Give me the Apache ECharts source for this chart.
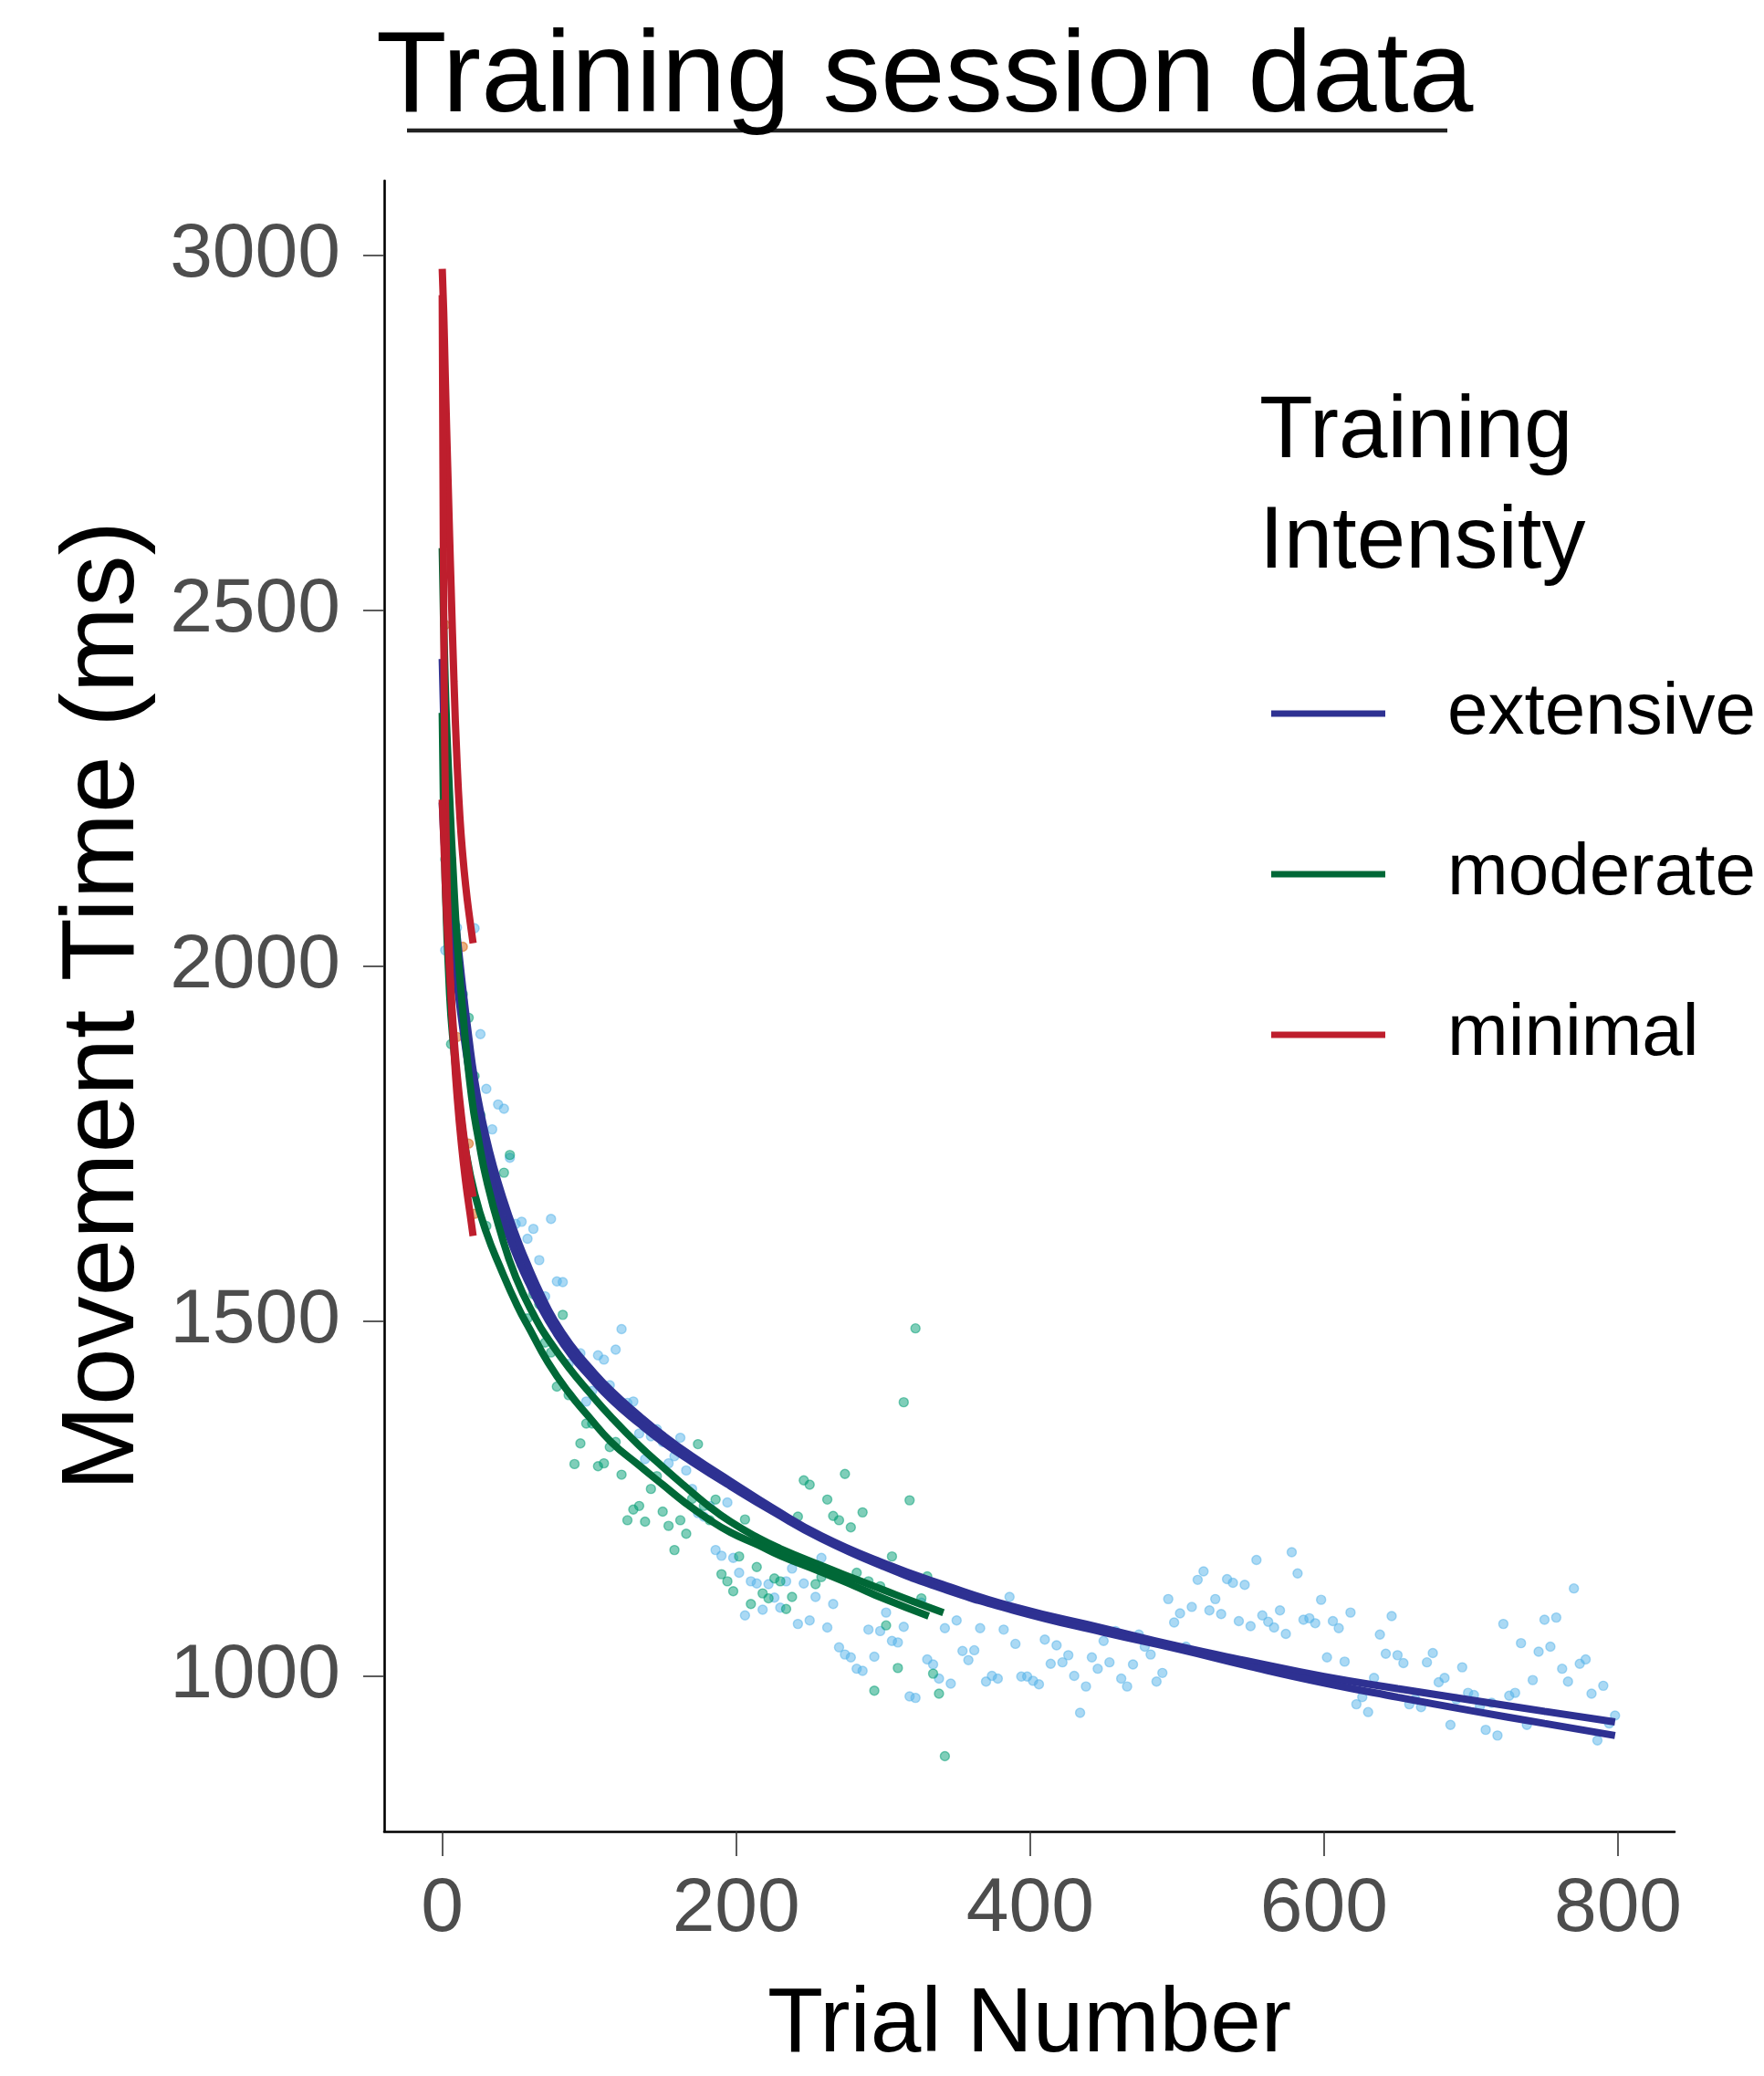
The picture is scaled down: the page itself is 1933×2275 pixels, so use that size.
<!DOCTYPE html>
<html><head><meta charset="utf-8">
<script src="https://cdn.jsdelivr.net/npm/echarts@6/dist/echarts.min.js"></script>
<style>html,body{margin:0;padding:0;background:#fff}#c{width:1933px;height:2275px}</style>
</head><body><div id="c"></div>
<script>
// ---------- DATA ----------
const xTicks = [0, 200, 400, 600, 800];
const yTicks = [1000, 1500, 2000, 2500, 3000];
const groups = ['extensive', 'moderate', 'minimal'];

const extensiveTrial = [2,6,10,14,18,22,26,30,34,38,42,46,50,54,58,62,66,70,74,78,
82,86,90,94,98,102,106,110,114,118,122,126,130,134,138,142,146,150,154,158,
162,166,170,174,178,182,186,190,194,198,202,206,210,214,218,222,226,230,234,238,
242,246,250,254,258,262,266,270,274,278,282,286,290,294,298,302,306,310,314,318,
322,326,330,334,338,342,346,350,354,358,362,366,370,374,378,382,386,390,394,398,
402,406,410,414,418,422,426,430,434,438,442,446,450,454,458,462,466,470,474,478,
482,486,490,494,498,502,506,510,514,518,522,526,530,534,538,542,546,550,554,558,
562,566,570,574,578,582,586,590,594,598,602,606,610,614,618,622,626,630,634,638,
642,646,650,654,658,662,666,670,674,678,682,686,690,694,698,702,706,710,714,718,
722,726,730,734,738,742,746,750,754,758,762,766,770,774,778,782,786,790,794,798];
const extensiveMT = [2022,1990,2054,1950,1867,2053,1904,1827,1770,1805,
1799,1730,1637,1640,1616,1630,1586,1535,1644,1556,
1555,1440,1453,1455,1387,1402,1452,1446,1410,1460,
1489,1385,1387,1342,1306,1338,1348,1330,1300,1310,
1336,1290,1264,1230,1225,1240,1178,1170,1245,1167,
1146,1086,1134,1131,1094,1130,1111,1097,1134,1152,
1074,1131,1079,1112,1167,1069,1102,1041,1031,1027,
1011,1008,1066,1028,1064,1090,1050,1048,1070,972,
970,1104,1024,1017,997,1068,990,1079,1036,1023,
1037,1068,993,1001,997,1066,1112,1046,1000,1000,
994,989,1052,1018,1044,1020,1030,1001,949,986,
1027,1011,1050,1020,1064,997,986,1017,1059,1042,
1031,993,1005,1109,1076,1089,1042,1098,1136,1148,
1093,1109,1088,1137,1132,1078,1129,1071,1164,1086,
1077,1069,1093,1060,1175,1145,1080,1082,1075,1108,
1027,1078,1068,1021,1090,961,971,950,998,1059,
1032,1085,1030,1019,961,968,957,1020,1033,992,
998,932,968,1013,977,974,958,925,963,917,
1074,973,977,1047,932,995,1035,1080,1042,1083,
1011,993,1124,1018,1024,976,910,987,934,945];

const moderateTrial = [2,6,10,14,18,22,26,30,34,38,42,46,50,54,58,62,66,70,74,78,
82,86,90,94,98,102,106,110,114,118,122,126,130,134,138,142,146,150,154,158,
162,166,170,174,178,182,186,190,194,198,202,206,210,214,218,222,226,230,234,238,
242,246,250,254,258,262,266,270,274,278,282,286,290,294,298,302,306,310,314,318,
322,326,330,334,338,342];
const moderateMT = [2150,1890,1990,1960,1927,1845,1790,1634,1708,1673,
1709,1734,1610,1580,1504,1538,1524,1470,1456,1408,
1509,1396,1299,1328,1356,1356,1296,1300,1323,1330,
1284,1220,1235,1240,1218,1264,1282,1232,1212,1178,
1220,1201,1250,1327,1240,1220,1249,1144,1134,1120,
1169,1221,1102,1154,1117,1110,1138,1134,1095,1112,
1225,1276,1270,1130,1140,1249,1226,1220,1285,1210,
1146,1231,1134,980,1127,1072,1169,1012,1386,1248,
1490,1110,1141,1004,976,888];

const minimalTrial = [2,6,10,14,18,22];
const minimalMT = [2480,2150,1900,2027,1750,1651];

// fitted curves (trial, movement time)
const extFitA = [[0,2432],[2,2290],[5,2165],[8,2085],[11,2025],[14,1968],[18,1900],[22,1840],[27,1785],[32,1740],[38,1695],[45,1650],[52,1610],[59,1575],[67,1538],[76,1502],[88,1465],[100,1435],[115,1402],[134,1367],[150,1340],[170,1310],[196,1275],[225,1237],[258,1198],[300,1160],[340,1130],[389,1098],[450,1068],[500,1043],[550,1021],[600,1000],[650,983],[700,967],[750,951],[798,936]];
const extFitB = [[0,2230],[2,2150],[5,2070],[8,2010],[11,1960],[14,1912],[18,1855],[22,1805],[27,1752],[32,1708],[38,1664],[45,1622],[52,1585],[59,1553],[67,1520],[76,1488],[88,1452],[100,1423],[115,1390],[134,1356],[150,1330],[170,1302],[196,1268],[225,1232],[258,1194],[300,1155],[340,1124],[389,1093],[450,1062],[500,1039],[550,1014],[600,991],[650,971],[700,952],[750,934],[798,917]];
const modFitA = [[0,2588],[2,2400],[5,2240],[8,2110],[10,2040],[14,1935],[20,1815],[25,1752],[30,1700],[39,1630],[50,1562],[64,1502],[72,1475],[86,1435],[100,1400],[115,1365],[134,1325],[150,1295],[165,1268],[180,1242],[196,1218],[215,1195],[230,1180],[258,1156],[280,1138],[300,1122],[320,1106],[341,1090]];
const modFitB = [[0,2356],[2,2120],[5,1960],[8,1880],[12,1800],[16,1740],[22,1680],[30,1625],[39,1578],[51,1522],[60,1487],[72,1442],[86,1400],[100,1365],[115,1330],[134,1297],[150,1270],[165,1245],[180,1223],[196,1203],[215,1185],[230,1170],[258,1147],[280,1128],[300,1110],[331,1085]];
const minFitA = [[0,2981],[1,2920],[2,2835],[3,2755],[4,2680],[5,2605],[6,2535],[8,2400],[10,2290],[12,2210],[14,2155],[16,2112],[18,2077],[21,2032]];
const minFitB = [[0,2944],[0.5,2700],[1,2500],[1.5,2350],[2,2260],[3,2140],[4,2060],[6,1960],[8,1880],[10,1820],[13,1750],[16,1695],[19,1650],[21,1620]];
const minFitC = [[0,2234],[1,2180],[2,2120],[3,2070],[4,2030],[6,1960],[8,1900],[10,1850],[13,1790],[16,1740],[19,1700],[21,1675]];

// ---------- FONTS ----------
function hasFont(name){
  const ctx = document.createElement('canvas').getContext('2d');
  ctx.font = '72px monospace'; const a = ctx.measureText('abcdefghijklm0123456789').width;
  ctx.font = '72px "' + name + '", monospace'; const b = ctx.measureText('abcdefghijklm0123456789').width;
  return a !== b;
}
const narrowOK = hasFont('Liberation Sans Narrow');
const NARROW = narrowOK ? '"Liberation Sans Narrow", "Liberation Sans", Arial, sans-serif' : '"Liberation Sans", Arial, sans-serif';
const SANS = '"Liberation Sans", Arial, sans-serif';
const fs = narrowOK ? {tick: 94, legTitle: 113, legLabel: 96, xName: 115} : {tick: 84, legTitle: 96, legLabel: 80, xName: 100};

// ---------- CHART ----------
const colors = {extensive: '#2E3192', moderate: '#006837', minimal: '#BE1E2D'};
const pts = {extensive: 'rgba(86,180,233,0.5)', moderate: 'rgba(0,158,115,0.5)', minimal: 'rgba(213,94,0,0.5)'};
const zip = (xs, ys) => xs.map((x, i) => [x, ys[i]]);

function scatter(name, data, col){
  return {type: 'scatter', name: name + ' pts', data: data, symbol: 'circle', symbolSize: 10,
    itemStyle: {color: col, borderColor: col, borderWidth: 1.4, opacity: 1}, silent: true, z: 2};
}
function curve(name, data){
  return {type: 'line', name: name, data: data, smooth: 0.5, showSymbol: false,
    symbol: 'none', color: colors[name], lineStyle: {color: colors[name], width: 8, cap: 'butt'}, silent: true, z: 3};
}

const chart = echarts.init(document.getElementById('c'), null, {renderer: 'canvas'});
chart.setOption({
  animation: false,
  backgroundColor: '#ffffff',
  title: [
    {text: 'Training session data', left: 412, top: 23, padding: 0,
     textStyle: {fontFamily: SANS, fontSize: 127, fontWeight: 'normal', color: '#000'}},
    {text: 'Training\nIntensity', left: 1380, top: 414, padding: 0,
     textStyle: {fontFamily: NARROW, fontSize: fs.legTitle, lineHeight: 121, fontWeight: 'normal', color: '#000'}}
  ],
  graphic: [{type: 'line', shape: {x1: 446, y1: 143, x2: 1586, y2: 143}, style: {stroke: '#222', lineWidth: 4.5}, silent: true}],
  legend: {orient: 'vertical', left: 1393, top: 732, itemWidth: 125, itemHeight: 7, itemGap: 76,
    icon: 'rect', selectedMode: false, data: groups, padding: 0,
    textStyle: {fontFamily: NARROW, fontSize: fs.legLabel, color: '#000', lineHeight: 100, padding: [0, 0, 0, 63]}},
  grid: {left: 421, right: 98, top: 198, bottom: 267},
  xAxis: {type: 'value', min: -39.5, max: 838.5,
    axisLine: {show: true, onZero: false, lineStyle: {color: '#000', width: 2.6}},
    axisTick: {show: true, length: 27, customValues: xTicks, lineStyle: {color: '#333', width: 1.6}},
    axisLabel: {customValues: xTicks, margin: 44, formatter: v => String(v), fontFamily: NARROW, fontSize: fs.tick, color: '#4d4d4d'},
    splitLine: {show: false},
    name: 'Trial Number', nameLocation: 'middle', nameGap: 163,
    nameTextStyle: {fontFamily: NARROW, fontSize: fs.xName, color: '#000'}},
  yAxis: {type: 'value', min: 782, max: 3105,
    axisLine: {show: true, onZero: false, lineStyle: {color: '#000', width: 2.6}},
    axisTick: {show: true, length: 23, customValues: yTicks, lineStyle: {color: '#333', width: 1.6}},
    axisLabel: {customValues: yTicks, margin: 48, formatter: v => String(v), fontFamily: NARROW, fontSize: fs.tick, color: '#4d4d4d'},
    splitLine: {show: false},
    name: 'Movement Time (ms)', nameLocation: 'middle', nameGap: 250, nameRotate: 90,
    nameTextStyle: {fontFamily: SANS, fontSize: 113, color: '#000'}},
  series: [
    scatter('extensive', zip(extensiveTrial, extensiveMT), pts.extensive),
    scatter('moderate', zip(moderateTrial, moderateMT), pts.moderate),
    scatter('minimal', zip(minimalTrial, minimalMT), pts.minimal),
    curve('extensive', extFitA), curve('extensive', extFitB),
    curve('moderate', modFitA), curve('moderate', modFitB),
    curve('minimal', minFitA), curve('minimal', minFitB), curve('minimal', minFitC)
  ]
});
</script></body></html>
